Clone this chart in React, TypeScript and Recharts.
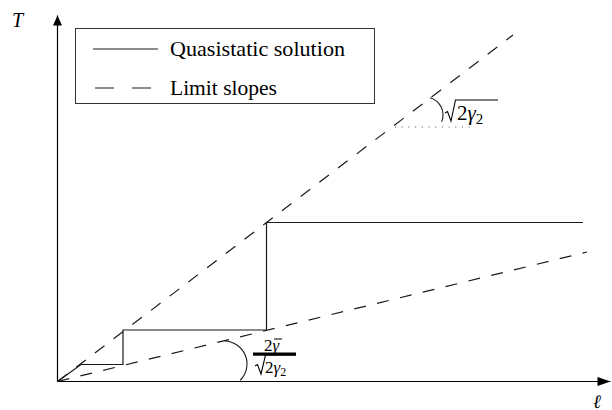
import { LineChart, Line, XAxis, YAxis, ReferenceLine, ReferenceDot, Legend } from 'recharts';

const ELL_MAX = 55.3;
const T_MAX = 36.6;

// quasistatic solution: staircase squeezed between the two limit slopes
const solutionEll = [0, 2.35, 6.55, 6.55, 20.9, 20.9, 52.55];
const solutionT = [0, 1.7, 1.7, 5.15, 5.15, 15.9, 15.9];

// limit slopes through the origin
const steepEll = [0, 45.55];
const steepT = [0, 34.65];
const shallowEll = [0, 52.95];
const shallowT = [0, 12.95];

// dotted horizontal used to mark the steep slope angle
const dottedEll = [33.75, 41.45];
const dottedT = 25.45;

// centres of the two angle arcs
const steepArc = { ell: 36.75, T: 26.65 };
const shallowArc = { ell: 16.65, T: 1.75 };

const seriesNames = ['Quasistatic solution', 'Limit slopes'];
const legendTextWidths = [175, 107];

const FONT = '"Liberation Serif", "DejaVu Serif", serif';
const INK = '#1a1a1a';
const DASH = '12 11.5';

const toRows = (ell: number[], T: number[]) => ell.map((e, i) => ({ ell: e, T: T[i] }));

const solutionRows = toRows(solutionEll, solutionT);
const steepRows = toRows(steepEll, steepT);
const shallowRows = toRows(shallowEll, shallowT);

const arcPath = (cx: number, cy: number, r: number, a0: number, a1: number) => {
  const rad = Math.PI / 180;
  const x0 = cx + r * Math.cos(a0 * rad);
  const y0 = cy + r * Math.sin(a0 * rad);
  const x1 = cx + r * Math.cos(a1 * rad);
  const y1 = cy + r * Math.sin(a1 * rad);
  return `M${x0},${y0} A${r},${r} 0 0 1 ${x1},${y1}`;
};

// square-root sign drawn as a path with its overline
const radical = (x: number, top: number, base: number, right: number) =>
  `M${x},${base - 7} L${x + 2.5},${base - 8.5} L${x + 6},${base + 1} L${x + 10.5},${top} L${right},${top}`;

const ArrowX = (p: any) => (
  <polygon points={`${p.cx},${p.cy} ${p.cx - 13},${p.cy - 4.5} ${p.cx - 13},${p.cy + 4.5}`} fill="#000" />
);

const ArrowY = (p: any) => (
  <polygon points={`${p.cx},${p.cy} ${p.cx - 4.5},${p.cy + 10} ${p.cx + 4.5},${p.cy + 10}`} fill="#000" />
);

const LabelT = (p: any) => (
  <text x={p.cx - 45.5} y={p.cy + 11.5} fontFamily={FONT} fontStyle="italic" fontSize={20} fill="#000">
    T
  </text>
);

const LabelEll = (p: any) => (
  <text x={p.cx - 17.5} y={p.cy + 26} fontFamily={FONT} fontStyle="italic" fontSize={19} fill="#000">
    ℓ
  </text>
);

const SteepAngle = (p: any) => {
  const { cx, cy } = p;
  return (
    <g>
      <path d={arcPath(cx, cy, 18, -74, 22)} fill="none" stroke={INK} strokeWidth={1.1} />
      <path d={radical(cx + 20, cy - 15, cy + 5, cx + 73)} fill="none" stroke="#000" strokeWidth={1.1} />
      <text x={cx + 32} y={cy + 5} fontFamily={FONT} fontSize={21} fill="#000">
        2<tspan fontStyle="italic">γ</tspan>
        <tspan fontSize={15} dy={4}>2</tspan>
      </text>
    </g>
  );
};

const ShallowAngle = (p: any) => {
  const { cx, cy } = p;
  return (
    <g>
      <path d={arcPath(cx, cy, 23, -88, 45)} fill="none" stroke={INK} strokeWidth={1.1} />
      <text x={cx + 40} y={cy - 13} fontFamily={FONT} fontSize={17} fill="#000">
        2<tspan fontStyle="italic">γ</tspan>
      </text>
      <line x1={cx + 50} x2={cx + 58} y1={cy - 25} y2={cy - 25} stroke="#000" strokeWidth={1} />
      {/* fraction bar merged with the radical's overline */}
      <rect x={cx + 29} y={cy - 11.5} width={43} height={3.2} fill="#000" />
      <path d={radical(cx + 31, cy - 9, cy + 9, cx + 72)} fill="none" stroke="#000" strokeWidth={1.1} />
      <text x={cx + 41} y={cy + 9} fontFamily={FONT} fontSize={17} fill="#000">
        2<tspan fontStyle="italic">γ</tspan>
        <tspan fontSize={12} dy={3}>2</tspan>
      </text>
    </g>
  );
};

const LegendBox = ({ payload }: any) => {
  const items = (payload || [])
    .filter((it: any) => it.type !== 'none')
    .sort((a: any, b: any) => seriesNames.indexOf(a.value) - seriesNames.indexOf(b.value));
  return (
    <svg width={300} height={76} style={{ display: 'block' }}>
      <rect x={0.5} y={0.5} width={299} height={75} fill="#fff" stroke="#333" />
      {items.map((it: any, i: number) => {
        const y = 21 + i * 39;
        const dashed = !!it.payload?.strokeDasharray;
        return (
          <g key={it.value}>
            {dashed ? (
              <line x1={20} x2={76} y1={y} y2={y} stroke={INK} strokeWidth={1.2} strokeDasharray="19 18" />
            ) : (
              <line x1={18} x2={83} y1={y} y2={y} stroke={INK} strokeWidth={1.2} />
            )}
            <text
              x={95}
              y={y + 7}
              fontFamily={FONT}
              fontSize={21}
              fill="#000"
              textLength={legendTextWidths[seriesNames.indexOf(it.value)]}
              lengthAdjust="spacingAndGlyphs"
            >
              {it.value}
            </text>
          </g>
        );
      })}
    </svg>
  );
};

export default function App() {
  return (
    <div style={{ position: 'absolute', left: 0, top: 0, background: '#fff' }}>
      <LineChart width={612} height={410} margin={{ top: 15.5, right: 1.5, bottom: 28.5, left: 57.5 }}>
        <XAxis type="number" dataKey="ell" domain={[0, ELL_MAX]} hide allowDataOverflow />
        <YAxis type="number" dataKey="T" domain={[0, T_MAX]} hide allowDataOverflow />

        <ReferenceLine y={0} stroke="#000" strokeWidth={1.2} ifOverflow="visible" />
        <ReferenceLine x={0} stroke="#000" strokeWidth={1.2} ifOverflow="visible" />
        <ReferenceLine
          segment={[
            { x: dottedEll[0], y: dottedT },
            { x: dottedEll[1], y: dottedT },
          ]}
          stroke="#555"
          strokeWidth={1}
          strokeDasharray="1 5.7"
          ifOverflow="visible"
        />

        <Line
          data={solutionRows}
          dataKey="T"
          name={seriesNames[0]}
          type="linear"
          stroke={INK}
          strokeWidth={1.2}
          dot={false}
          activeDot={false}
          isAnimationActive={false}
        />
        <Line
          data={steepRows}
          dataKey="T"
          name={seriesNames[1]}
          type="linear"
          stroke={INK}
          strokeWidth={1.2}
          strokeDasharray={DASH}
          dot={false}
          activeDot={false}
          isAnimationActive={false}
        />
        <Line
          data={shallowRows}
          dataKey="T"
          name={seriesNames[1]}
          legendType="none"
          type="linear"
          stroke={INK}
          strokeWidth={1.2}
          strokeDasharray={DASH}
          dot={false}
          activeDot={false}
          isAnimationActive={false}
        />

        <ReferenceDot x={ELL_MAX} y={0} r={0} ifOverflow="visible" shape={ArrowX} />
        <ReferenceDot x={0} y={T_MAX} r={0} ifOverflow="visible" shape={ArrowY} />
        <ReferenceDot x={0} y={T_MAX} r={0} ifOverflow="visible" shape={LabelT} />
        <ReferenceDot x={ELL_MAX} y={0} r={0} ifOverflow="visible" shape={LabelEll} />
        <ReferenceDot x={steepArc.ell} y={steepArc.T} r={0} ifOverflow="visible" shape={SteepAngle} />
        <ReferenceDot x={shallowArc.ell} y={shallowArc.T} r={0} ifOverflow="visible" shape={ShallowAngle} />

        <Legend
          layout="horizontal"
          verticalAlign="middle"
          align="center"
          content={<LegendBox />}
          wrapperStyle={{ left: 75, top: 28, width: 300, height: 76 }}
        />
      </LineChart>
    </div>
  );
}
